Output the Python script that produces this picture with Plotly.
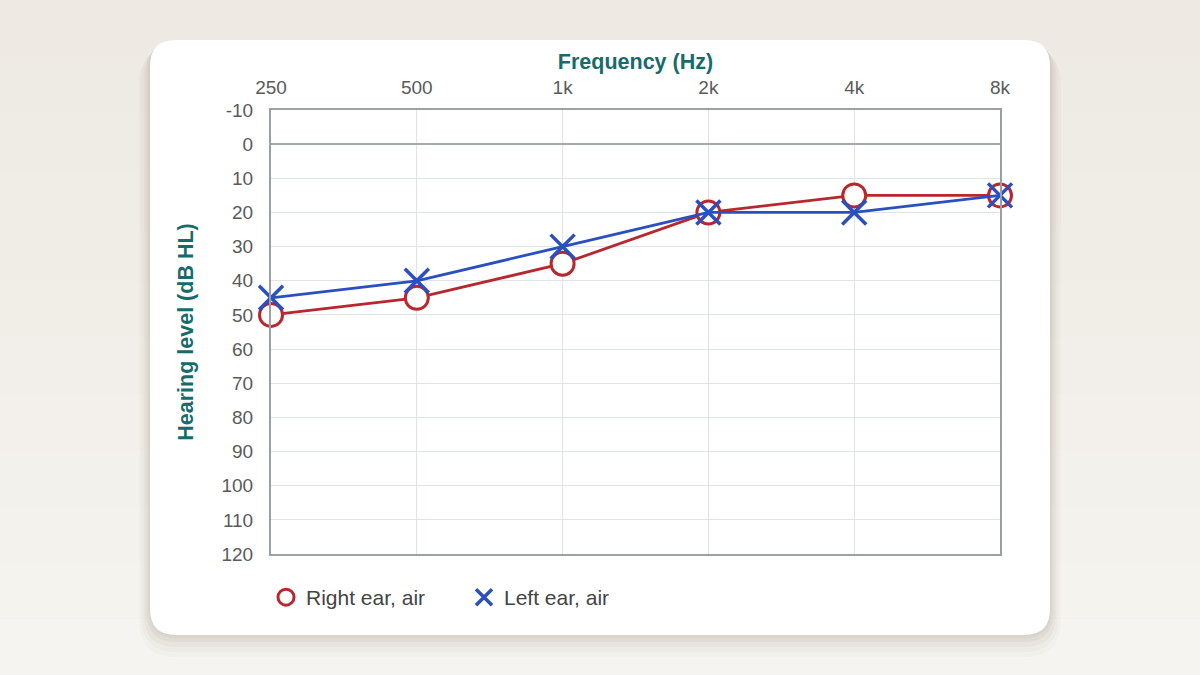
import plotly.graph_objects as go

freqs = [250, 500, 1000, 2000, 4000, 8000]
freq_labels = ["250", "500", "1k", "2k", "4k", "8k"]
right_air = [50, 45, 35, 20, 15, 15]
left_air = [45, 40, 30, 20, 20, 15]
level_ticks = list(range(-10, 121, 10))
level_labels = [str(v) for v in level_ticks]

W, H = 1200, 675
RED = "#b8262e"
BLUE = "#2a4fc0"


def rounded_rect(x0, y0, x1, y1, r):
    # pixel coords -> paper coords path
    def p(x, y):
        return f"{x / W:.5f},{1 - y / H:.5f}"
    return (
        f"M {p(x0 + r, y0)} L {p(x1 - r, y0)} Q {p(x1, y0)} {p(x1, y0 + r)} "
        f"L {p(x1, y1 - r)} Q {p(x1, y1)} {p(x1 - r, y1)} "
        f"L {p(x0 + r, y1)} Q {p(x0, y1)} {p(x0, y1 - r)} "
        f"L {p(x0, y0 + r)} Q {p(x0, y0)} {p(x0 + r, y0)} Z"
    )


fig = go.Figure()

# lines without legend entries, markers carry the legend
fig.add_trace(go.Scatter(
    x=freqs, y=right_air, mode="lines", showlegend=False, hoverinfo="skip",
    line=dict(color=RED, width=2.8), cliponaxis=False,
))
fig.add_trace(go.Scatter(
    x=freqs, y=right_air, name="Right ear, air", mode="markers", cliponaxis=False,
    marker=dict(symbol="circle", size=23, color="white", line=dict(color=RED, width=3)),
))
fig.add_trace(go.Scatter(
    x=freqs, y=left_air, mode="lines", showlegend=False, hoverinfo="skip",
    line=dict(color=BLUE, width=2.8), cliponaxis=False,
))
fig.add_trace(go.Scatter(
    x=freqs, y=left_air, name="Left ear, air", mode="markers", cliponaxis=False,
    marker=dict(symbol="x-thin-open", size=24, color=BLUE, line=dict(color=BLUE, width=3.5)),
))

shapes = []
# background gradient bands
bands = 12
for i in range(bands):
    t = i / (bands - 1)
    c0, c1 = (238, 234, 227), (246, 244, 240)
    col = tuple(int(c0[k] + (c1[k] - c0[k]) * t) for k in range(3))
    shapes.append(dict(type="rect", xref="paper", yref="paper", layer="below",
                       x0=0, x1=1, y0=1 - (i + 1) / bands, y1=1 - i / bands,
                       fillcolor=f"rgb{col}", line=dict(width=0)))
# card shadow
for off, alpha in [(22, 0.025), (17, 0.03), (12, 0.04), (7, 0.05), (3, 0.05)]:
    shapes.append(dict(type="path", xref="paper", yref="paper", layer="below",
                       path=rounded_rect(150 - off / 2, 40 + off / 3, 1050 + off / 2, 635 + off, 26 + off / 2),
                       fillcolor=f"rgba(90,80,60,{alpha})", line=dict(width=0)))
# card
shapes.append(dict(type="path", xref="paper", yref="paper", layer="below",
                   path=rounded_rect(150, 40, 1050, 635, 26),
                   fillcolor="white", line=dict(width=0)))

fig.update_layout(
    width=W, height=H,
    margin=dict(l=0, r=0, t=0, b=0),
    paper_bgcolor="#f1eee8",
    plot_bgcolor="white",
    font=dict(family="Liberation Sans, Arial, sans-serif", color="#5a5a5a", size=19),
    shapes=shapes,
    showlegend=True,
    legend=dict(orientation="h", x=266 / W, y=1 - 577 / H, xanchor="left", yanchor="top",
                font=dict(size=21, color="#444"), itemwidth=30, bgcolor="rgba(0,0,0,0)",
                entrywidthmode="pixels", entrywidth=153),
    xaxis=dict(
        type="log", side="top", domain=[271 / W, 1000 / W],
        range=[2.39794, 3.90309],
        tickvals=freqs, ticktext=freq_labels,
        showgrid=True, gridcolor="#dfe4e8", gridwidth=1,
        showline=True, linecolor="#9aa0a6", linewidth=2, mirror=True,
        ticks="", ticklabelstandoff=6,
        title=dict(text="<b>Frequency (Hz)</b>", font=dict(color="#176b6b", size=21.5), standoff=2),
        automargin=False,
    ),
    yaxis=dict(
        domain=[1 - 554 / H, 1 - 110 / H],
        range=[120, -10], tickvals=level_ticks, ticktext=level_labels,
        showgrid=True, gridcolor="#dfe4e8", gridwidth=1,
        zeroline=True, zerolinecolor="#a4a9ae", zerolinewidth=2,
        showline=True, linecolor="#9aa0a6", linewidth=2, mirror=True,
        ticks="", ticklabelstandoff=12,
        title=dict(text="<b>Hearing level (dB HL)</b>", font=dict(color="#176b6b", size=21.5), standoff=22),
        automargin=False,
    ),
)

fig.write_html("out.html", config={"displayModeBar": False},
               post_script="document.body.style.margin='0';")
